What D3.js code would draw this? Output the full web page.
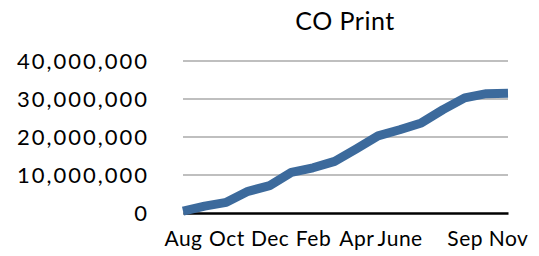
<!DOCTYPE html>
<html lang="en">
<head>
    <meta charset="UTF-8">
    <title>CO Print</title>
    <script src="https://cdnjs.cloudflare.com/ajax/libs/d3/7.8.5/d3.min.js"></script>
    <style>
        body {
            margin: 0;
            background: white;
            font-family: Lato, 'DejaVu Sans', sans-serif;
        }
        .grid line {
            stroke: #bfbfbf;
            stroke-width: 2px;
        }
    </style>
</head>
<body>
    <div id="chart"></div>
    <script>
        // Monthly cumulative values, Aug through Nov of the following year
        const months = ["Aug", "Sep", "Oct", "Nov", "Dec", "Jan", "Feb", "Mar",
                        "Apr", "May", "June", "July", "Aug2", "Sep2", "Oct2", "Nov2"];
        const values = [500000, 1800000, 2800000, 5700000, 7200000, 10700000, 11900000, 13600000,
                        16900000, 20300000, 21900000, 23700000, 27200000, 30300000, 31400000, 31500000];
        // Only some categories get a label
        const tickLabels = { "Aug": "Aug", "Oct": "Oct", "Dec": "Dec", "Feb": "Feb",
                             "Apr": "Apr", "June": "June", "Sep2": "Sep", "Nov2": "Nov" };
        const yTicks = [0, 10000000, 20000000, 30000000, 40000000];

        const width = 539, height = 256;
        const margin = { top: 61, right: 31, bottom: 43, left: 183 };

        const svg = d3.select("#chart").append("svg")
            .attr("width", width)
            .attr("height", height);

        const x = d3.scalePoint()
            .domain(months)
            .range([margin.left, width - margin.right]);

        const y = d3.scaleLinear()
            .domain([0, 40000000])
            .range([height - margin.bottom, margin.top]);

        // Title
        svg.append("text")
            .attr("x", 345)
            .attr("y", 30)
            .attr("text-anchor", "middle")
            .attr("font-size", "25px")
            .attr("letter-spacing", "0.5px")
            .attr("fill", "#000")
            .text("CO Print");

        // Gridlines
        svg.append("g")
            .attr("class", "grid")
            .selectAll("line")
            .data(yTicks.filter(d => d > 0))
            .join("line")
            .attr("x1", margin.left)
            .attr("x2", width - margin.right)
            .attr("y1", d => y(d))
            .attr("y2", d => y(d));

        // Y axis labels
        const yAxis = d3.axisLeft(y)
            .tickValues(yTicks)
            .tickSize(0)
            .tickPadding(34)
            .tickFormat(d3.format(","));

        svg.append("g")
            .attr("transform", `translate(${margin.left},0)`)
            .call(yAxis)
            .call(g => g.select(".domain").remove())
            .call(g => g.selectAll("text")
                .attr("font-family", "Lato, 'DejaVu Sans', sans-serif")
                .attr("font-size", "22px")
                .attr("letter-spacing", "2px")
                .attr("fill", "#000"));

        // X axis
        const xAxis = d3.axisBottom(x)
            .tickSize(0)
            .tickPadding(18)
            .tickFormat(d => tickLabels[d] || "");

        svg.append("g")
            .attr("transform", `translate(0,${y(0)})`)
            .call(xAxis)
            .call(g => g.select(".domain")
                .attr("stroke", "#000")
                .attr("stroke-width", 2.5))
            .call(g => g.selectAll("text")
                .attr("font-family", "Lato, 'DejaVu Sans', sans-serif")
                .attr("font-size", "21px")
                .attr("letter-spacing", "0.5px")
                .attr("fill", "#000"));

        // Line
        const line = d3.line()
            .x((d, i) => x(months[i]))
            .y(d => y(d));

        svg.append("path")
            .datum(values)
            .attr("fill", "none")
            .attr("stroke", "#3c6a9c")
            .attr("stroke-width", 9)
            .attr("stroke-linejoin", "round")
            .attr("d", line);
    </script>
</body>
</html>
